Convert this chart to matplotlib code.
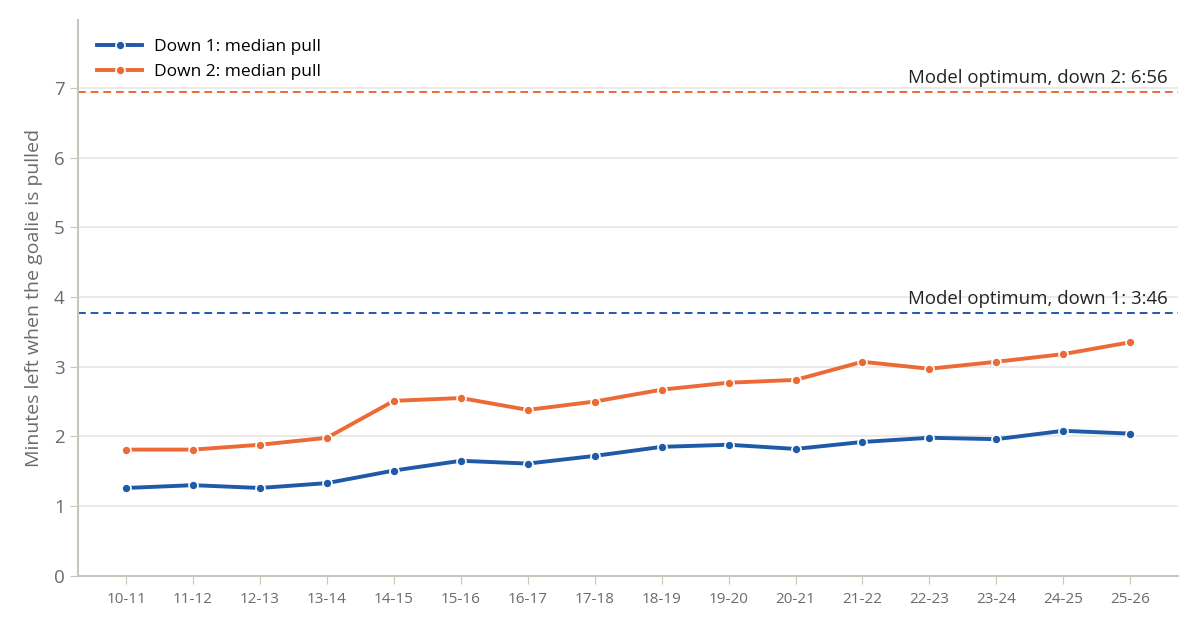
import matplotlib
matplotlib.use('Agg')
import matplotlib.pyplot as plt

seasons = ['10-11', '11-12', '12-13', '13-14', '14-15', '15-16', '16-17', '17-18',
           '18-19', '19-20', '20-21', '21-22', '22-23', '23-24', '24-25', '25-26']
down1 = [1.26, 1.30, 1.26, 1.33, 1.51, 1.65, 1.61, 1.72,
         1.85, 1.88, 1.82, 1.92, 1.98, 1.96, 2.08, 2.04]
down2 = [1.81, 1.81, 1.88, 1.98, 2.51, 2.55, 2.38, 2.50,
         2.67, 2.77, 2.81, 3.07, 2.97, 3.07, 3.18, 3.35]
opt1, opt1_lbl = 3 + 46 / 60, 'Model optimum, down 1: 3:46'
opt2, opt2_lbl = 6 + 56 / 60, 'Model optimum, down 2: 6:56'

BLUE = '#1f5aa8'
ORANGE = '#ec6a35'
GRID = '#e8e6e1'
SPINE = '#c9c5bd'
TXT = '#6b6b6b'

plt.rcParams['font.family'] = ['Open Sans', 'DejaVu Sans']

fig, ax = plt.subplots(figsize=(12, 6.3), dpi=100)
fig.subplots_adjust(left=0.065, right=0.982, top=0.968, bottom=0.086)

x = list(range(len(seasons)))
kw = dict(lw=2.8, marker='o', ms=6.5, mec='white', mew=1.2, zorder=3)
ax.plot(x, down1, color=BLUE, label='Down 1: median pull', **kw)
ax.plot(x, down2, color=ORANGE, label='Down 2: median pull', **kw)

ax.axhline(opt1, color=BLUE, ls=(0, (4, 2.5)), lw=1.4, zorder=2)
ax.axhline(opt2, color=ORANGE, ls=(0, (4, 2.5)), lw=1.4, zorder=2)
ax.text(0.99, opt1 + 0.08, opt1_lbl, transform=ax.get_yaxis_transform(),
        ha='right', va='bottom', fontsize=13.4, color='#222222')
ax.text(0.99, opt2 + 0.08, opt2_lbl, transform=ax.get_yaxis_transform(),
        ha='right', va='bottom', fontsize=13.4, color='#222222')

ax.set_xlim(-0.72, len(seasons) - 1 + 0.72)
ax.set_ylim(0, 7.97)
ax.set_yticks(range(0, 8))
ax.set_xticks(x)
ax.set_xticklabels(seasons)
ax.tick_params(axis='x', labelsize=11, colors=SPINE, labelcolor=TXT, length=6, pad=6)
ax.tick_params(axis='y', labelsize=13.5, colors=SPINE, labelcolor=TXT, length=6)
ax.set_ylabel('Minutes left when the goalie is pulled', fontsize=14, color=TXT, labelpad=8)

ax.grid(axis='y', color=GRID, lw=1.2)
ax.set_axisbelow(True)
for s in ['top', 'right']:
    ax.spines[s].set_visible(False)
for s in ['left', 'bottom']:
    ax.spines[s].set_color(SPINE)
    ax.spines[s].set_linewidth(1.5)

leg = ax.legend(loc='upper left', frameon=False, fontsize=12.5, handlelength=2.6,
                borderaxespad=0.7, labelspacing=0.5, handletextpad=0.7)

fig.savefig('out.png', dpi=100)
